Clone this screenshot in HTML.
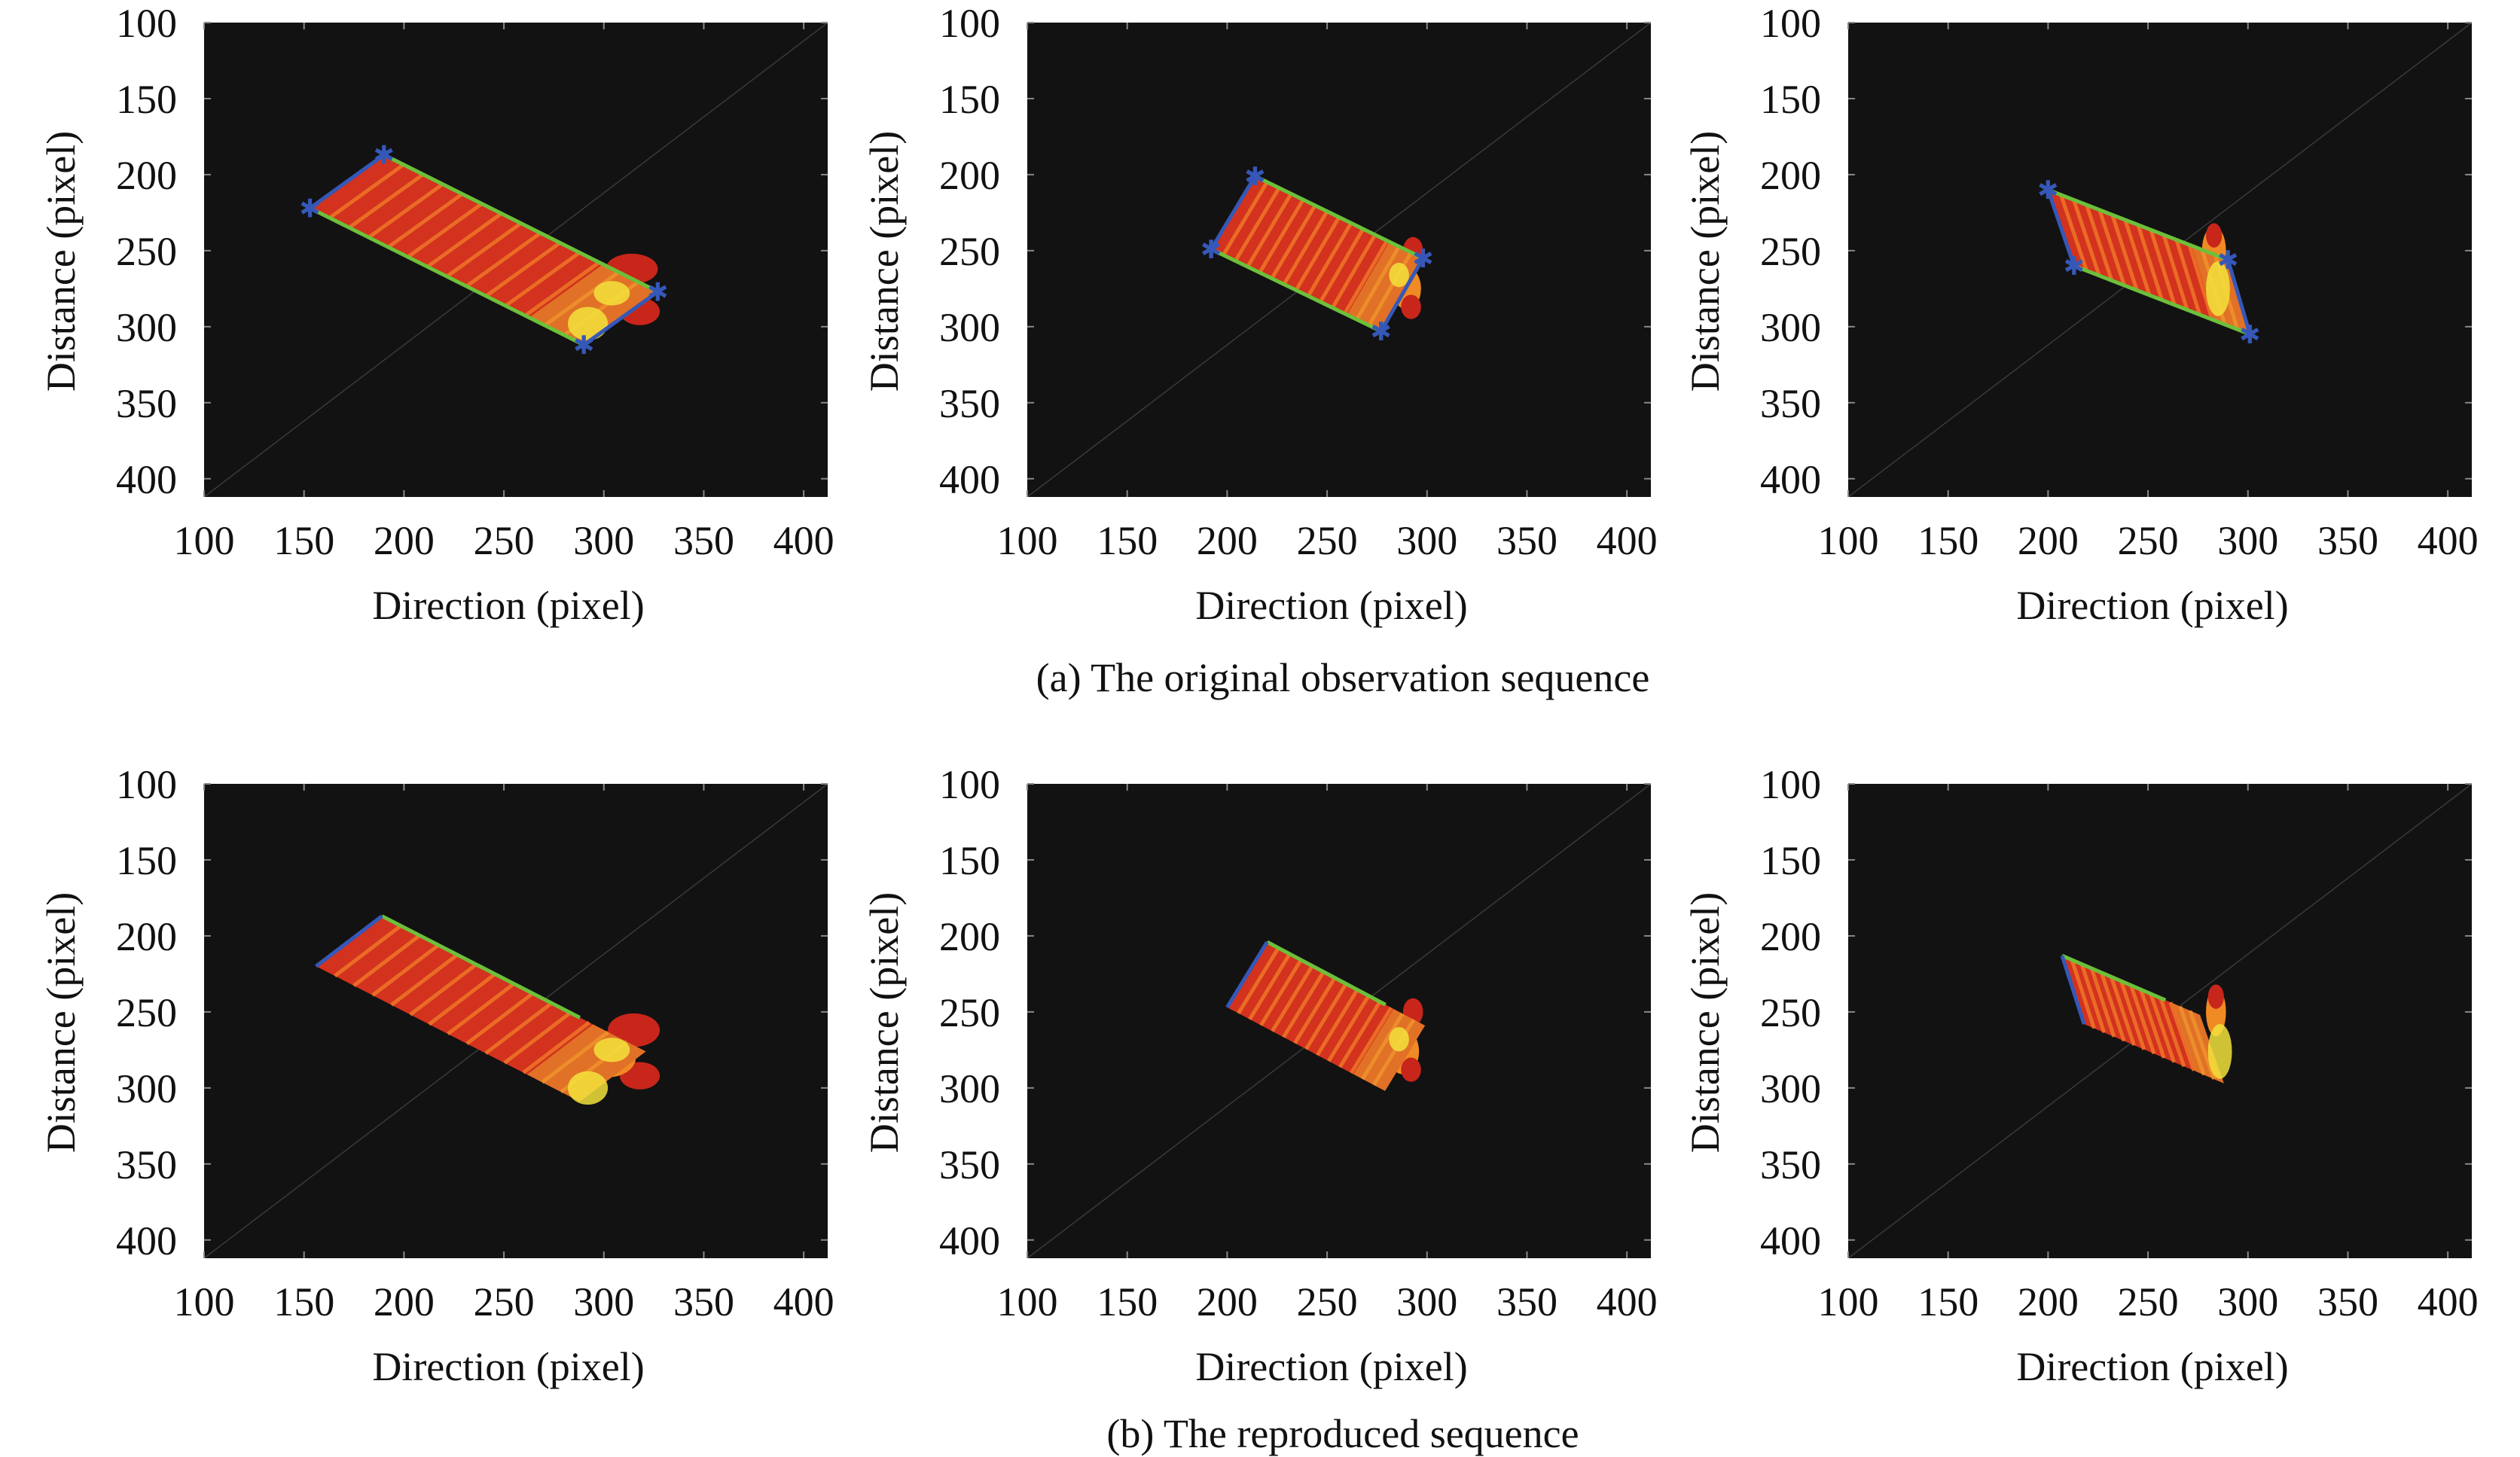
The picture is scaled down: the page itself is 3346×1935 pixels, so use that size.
<!DOCTYPE html>
<html><head><meta charset="utf-8">
<style>
html,body{margin:0;padding:0;background:#fff;}
svg{display:block;}
text{font-family:"Liberation Serif",serif;fill:#111;}
</style></head>
<body>
<svg id="fig" width="3346" height="1935" viewBox="0 0 3346 1935" xmlns="http://www.w3.org/2000/svg">
<defs></defs>
<text x="1783" y="918" font-size="54" text-anchor="middle">(a) The original observation sequence</text>
<text x="1783" y="1922" font-size="54" text-anchor="middle">(b) The reproduced sequence</text>
</svg>
<script>
// ---- data ----
const xTicks = [100, 150, 200, 250, 300, 350, 400];
const yTicks = [100, 150, 200, 250, 300, 350, 400];
const domainMin = 100, domainMax = 412;
// quad corners: [top, left, bottom, right]
const quadA1 = [[190,187],[153,222],[290,312],[327,277]];
const quadA2 = [[214,201],[192,249],[277,303],[298,255]];
const quadA3 = [[200,210],[213,260],[301,305],[290,256]];
const quadB1 = [[189,187],[156,220],[288,309],[321,276]];
const quadB2 = [[220,204],[200,247],[279,302],[299,259]];
const quadB3 = [[207,213],[218,258],[288,297],[276,252]];
// blobs: [cx, cy, rx, ry, colour-key]
const blobsA1 = [[314,262,13,10,'r'],[318,290,10,9,'r'],[302,276,14,12,'o'],[292,298,10,11,'y'],[304,278,9,8,'y']];
const blobsA2 = [[293,250,5,9,'r'],[290,275,7,14,'o'],[292,287,5,8,'r'],[286,266,5,8,'y']];
const blobsA3 = [[283,250,6,16,'o'],[285,275,6,18,'y'],[283,240,4,8,'r']];
const blobsB1 = [[315,262,13,11,'r'],[318,292,10,9,'r'],[302,280,14,13,'o'],[292,300,10,11,'y'],[304,275,9,8,'y']];
const blobsB2 = [[293,250,5,9,'r'],[288,276,8,15,'o'],[292,288,5,8,'r'],[286,268,5,8,'y']];
const blobsB3 = [[284,250,5,16,'o'],[286,276,6,18,'y'],[284,240,4,8,'r']];
const greenA = [[0,3],[1,2]];
const blueA = [[1,0],[2,3]];

const panels = [
  {name:'a1', left:271, top:30, quad:quadA1, blobs:blobsA1, full:true},
  {name:'a2', left:1364, top:30, quad:quadA2, blobs:blobsA2, full:true},
  {name:'a3', left:2454, top:30, quad:quadA3, blobs:blobsA3, full:true},
  {name:'b1', left:271, top:1041, quad:quadB1, blobs:blobsB1, full:false},
  {name:'b2', left:1364, top:1041, quad:quadB2, blobs:blobsB2, full:false},
  {name:'b3', left:2454, top:1041, quad:quadB3, blobs:blobsB3, full:false}
];
const PW = 828, PH = 630;
const NS = 'http://www.w3.org/2000/svg';
const svg = document.getElementById('fig');
const colors = {r:'#c8261a', o:'#f08a24', y:'#f2e23c'};
function mk(tag, attrs, parent){const e=document.createElementNS(NS,tag);for(const k in attrs)e.setAttribute(k,attrs[k]);parent.appendChild(e);return e;}
function lerp(a,b,t){return [a[0]+(b[0]-a[0])*t, a[1]+(b[1]-a[1])*t];}

panels.forEach((p,pi)=>{
  const sx = v => p.left + (v-domainMin)/(domainMax-domainMin)*PW;
  const sy = v => p.top + (v-domainMin)/(domainMax-domainMin)*PH;
  const P = pt => [sx(pt[0]), sy(pt[1])];
  const g = mk('g',{},svg);
  
  
  const cp = mk('clipPath',{id:'clip'+pi},svg.querySelector('defs'));
  mk('rect',{x:p.left,y:p.top,width:PW,height:PH},cp);
  const bg = mk('rect',{x:p.left,y:p.top,width:PW,height:PH,fill:'#121212'},g);
  
  
  const inner = mk('g',{'clip-path':'url(#clip'+pi+')'},g);
  const diag = mk('line',{x1:p.left,y1:p.top+PH,x2:p.left+PW,y2:p.top,stroke:'#3a3a3a','stroke-width':1.5},inner);
  
  
  const rx = r => r*PW/(domainMax-domainMin), ry = r => r*PH/(domainMax-domainMin);
  p.blobs.filter(b=>b[4]!=='y').forEach(b=>{
    const e = mk('ellipse',{cx:sx(b[0]),cy:sy(b[1]),rx:rx(b[2]),ry:ry(b[3]),fill:colors[b[4]]},inner);
    
    
  });
  const q = p.quad.map(P);
  const strip = mk('polygon',{points:q.map(c=>c.join(',')).join(' '),fill:'#d2321e'},inner);
  
  
  const N = 14;
  for(let i=1;i<N;i++){
    const t=i/N;
    const a=lerp(q[1],q[2],t), b=lerp(q[0],q[3],t);
    const s=mk('line',{x1:a[0],y1:a[1],x2:b[0],y2:b[1],stroke:'#f07a28','stroke-width':5,opacity:0.8},inner);
    
    
  }
  const e1=lerp(q[1],q[2],0.8), e2=lerp(q[0],q[3],0.8);
  const endb = mk('polygon',{points:[e1,q[2],q[3],e2].map(c=>c.join(',')).join(' '),fill:'#f0b030',opacity:0.5},inner);
  
  
  p.blobs.filter(b=>b[4]==='y').forEach(b=>{
    const e = mk('ellipse',{cx:sx(b[0]),cy:sy(b[1]),rx:rx(b[2]),ry:ry(b[3]),fill:colors[b[4]],opacity:0.85},inner);
    
    
  });
  if(p.full){
    greenA.forEach(([i,j])=>{
      const l=mk('line',{x1:q[i][0],y1:q[i][1],x2:q[j][0],y2:q[j][1],stroke:'#6cc03a','stroke-width':5},inner);
      
      
    });
    blueA.forEach(([i,j])=>{
      const l=mk('line',{x1:q[i][0],y1:q[i][1],x2:q[j][0],y2:q[j][1],stroke:'#3558b8','stroke-width':5},inner);
      
      
    });
    q.forEach(c=>{
      const m=mk('text',{x:c[0],y:c[1]+12,'font-size':34,'text-anchor':'middle',style:'fill:#3558b8;font-family:DejaVu Sans,sans-serif'},inner);
      m.textContent='✱';
      
      
    });
  } else {
    const m = lerp(q[0],q[3],0.75);
    const l1=mk('line',{x1:q[0][0],y1:q[0][1],x2:m[0],y2:m[1],stroke:'#6cc03a','stroke-width':5},inner);
    
    
    const l2=mk('line',{x1:q[1][0],y1:q[1][1],x2:q[0][0],y2:q[0][1],stroke:'#3558b8','stroke-width':5},inner);
    
    
  }
  xTicks.forEach(v=>{
    const x=sx(v);
    mk('line',{x1:x,y1:p.top+PH,x2:x,y2:p.top+PH-9,stroke:'#888','stroke-width':2},g);
    mk('line',{x1:x,y1:p.top,x2:x,y2:p.top+9,stroke:'#888','stroke-width':2},g);
    const t=mk('text',{x:x,y:p.top+PH+76,'font-size':54,'text-anchor':'middle'},g);
    t.textContent=v;
    
    
  });
  yTicks.forEach(v=>{
    const y=sy(v);
    mk('line',{x1:p.left,y1:y,x2:p.left+9,y2:y,stroke:'#888','stroke-width':2},g);
    mk('line',{x1:p.left+PW,y1:y,x2:p.left+PW-9,y2:y,stroke:'#888','stroke-width':2},g);
    const t=mk('text',{x:p.left-36,y:y+19,'font-size':54,'text-anchor':'end'},g);
    t.textContent=v;
    
    
  });
  const xl=mk('text',{x:p.left+PW/2-10,y:p.top+PH+162,'font-size':54,'text-anchor':'middle'},g);
  xl.textContent='Direction (pixel)';
  
  
  const cy=p.top+317, cx=p.left-172;
  const yl=mk('text',{x:cx,y:cy,'font-size':54,'text-anchor':'middle',transform:'rotate(-90 '+cx+' '+cy+')'},g);
  yl.textContent='Distance (pixel)';
  
  
});
</script>
</body></html>
